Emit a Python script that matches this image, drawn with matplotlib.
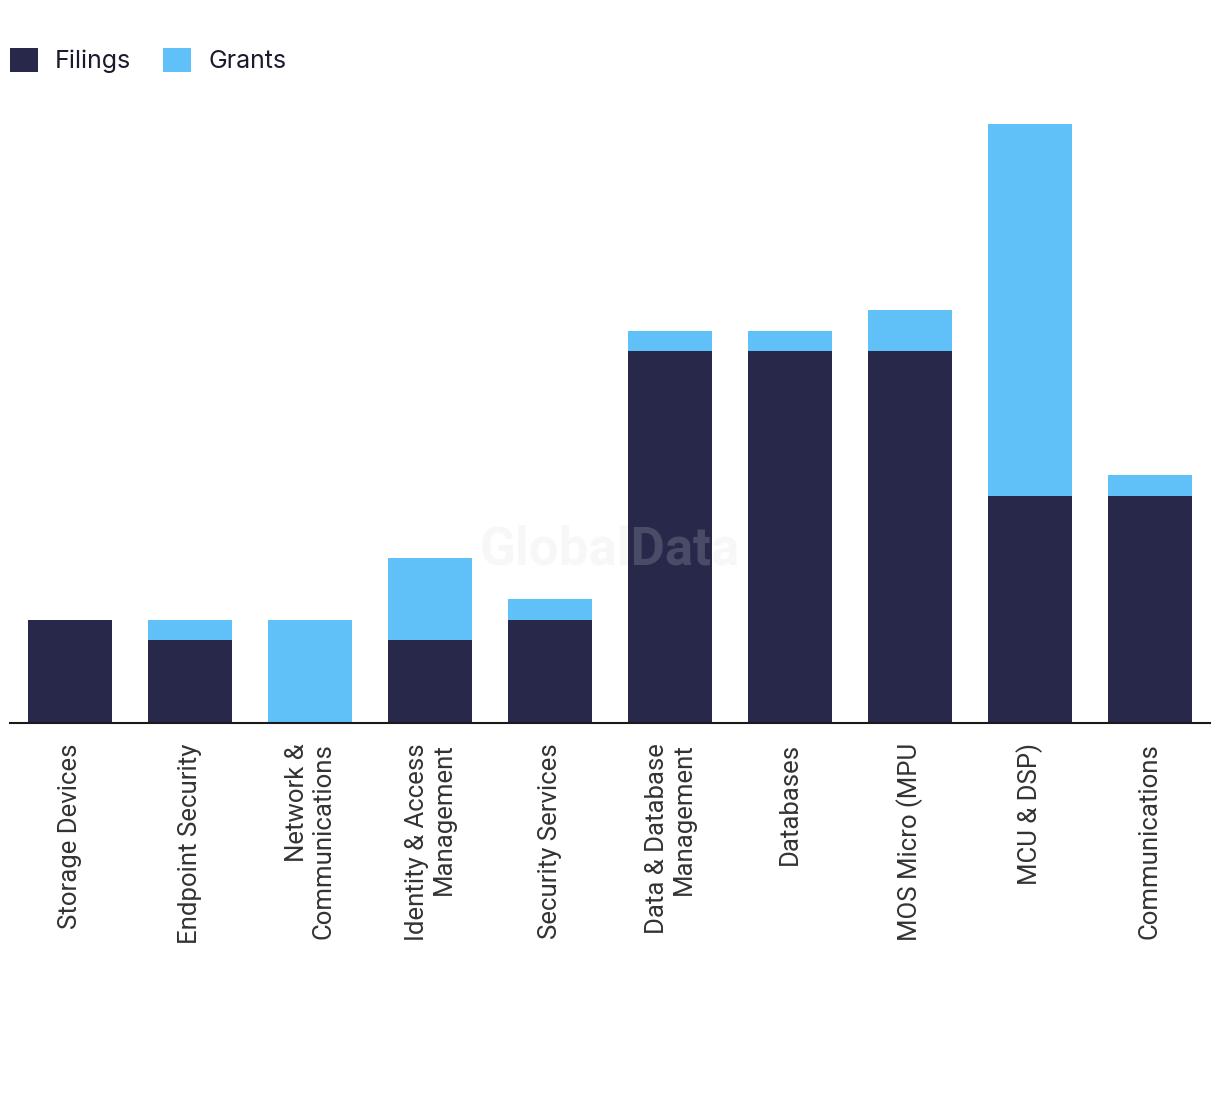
import matplotlib.pyplot as plt
from matplotlib.patches import Patch
import numpy as np

categories = ["Storage Devices", "Endpoint Security", "Network &\nCommunications",
              "Identity & Access\nManagement", "Security Services",
              "Data & Database\nManagement", "Databases", "MOS Micro (MPU",
              "MCU & DSP)", "Communications"]
filings = [5, 4, 0, 4, 5, 18, 18, 18, 11, 11]
grants = [0, 1, 5, 4, 1, 1, 1, 2, 18, 1]

navy = '#27284a'
blue = '#60c0f8'

fig = plt.figure(figsize=(12.2, 10.94), dpi=100)
ax = fig.add_axes([10/1220, 1 - 723/1094, 1200/1220, (723 - 103.5)/1094])

x = np.arange(len(categories))
ax.bar(x, filings, width=0.7, color=navy, zorder=2)
ax.bar(x, grants, width=0.7, bottom=filings, color=blue, zorder=2)

ax.set_xlim(-0.5, len(categories) - 0.5)
ax.set_ylim(0, 30)
ax.set_yticks([])
for s in ['top', 'right', 'left']:
    ax.spines[s].set_visible(False)
ax.spines['bottom'].set_color('#1a1a1a')
ax.spines['bottom'].set_linewidth(1.5)
ax.spines['bottom'].set_zorder(3)

ax.set_xticks(x)
ax.set_xticklabels(categories, rotation=90, ha='center', va='top',
                   multialignment='right', fontsize=18.5, color='#333333',
                   family='Roboto', linespacing=1.15)
ax.tick_params(axis='x', length=0, pad=14.5)

# watermark
ax.text(0.5, 0.28, 'GlobalData', transform=ax.transAxes, ha='center', va='center',
        fontsize=38, fontweight='bold', family='Roboto', color='#dbdbdb',
        alpha=0.2, zorder=4)

handles = [Patch(facecolor=navy, label='Filings'), Patch(facecolor=blue, label='Grants')]
fig.legend(handles=handles, loc='upper left', bbox_to_anchor=(-0.002, 0.968), ncol=2,
           frameon=False, prop={'family': 'Inter', 'size': 18},
           handlelength=1.12, handleheight=1.12, handletextpad=0.68,
           columnspacing=1.28, borderaxespad=0.0, borderpad=0.5,
           labelcolor='#1a1a2e')

fig.savefig('out.png', dpi=100)
